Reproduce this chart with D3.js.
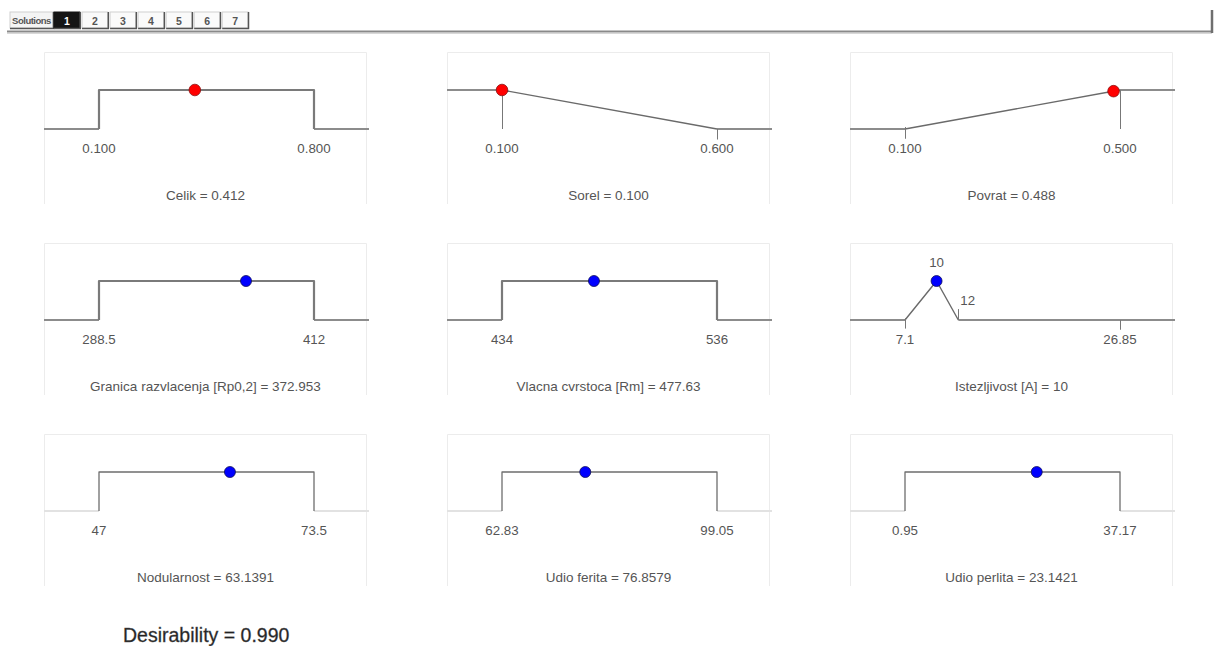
<!DOCTYPE html>
<html>
<head>
<meta charset="utf-8">
<script src="https://cdn.jsdelivr.net/npm/d3@7"></script>
<style>
  html, body { margin: 0; padding: 0; background: #ffffff; }
  svg { display: block; font-family: "Liberation Sans", Arial, sans-serif; }
</style>
</head>
<body>
<svg id="chart" width="1218" height="646"></svg>
<script>
// ---------------- data ----------------
const solutionLabels = ["1", "2", "3", "4", "5", "6", "7"];
const selectedSolution = "1";
const names = ["Celik", "Sorel", "Povrat",
  "Granica razvlacenja [Rp0,2]", "Vlacna cvrstoca [Rm]", "Istezljivost [A]",
  "Nodularnost", "Udio ferita", "Udio perlita"];
const lows = [0.1, 0.1, 0.1, 288.5, 434, 7.1, 47, 62.83, 0.95];
const highs = [0.8, 0.6, 0.5, 412, 536, 26.85, 73.5, 99.05, 37.17];
const lowLabels = ["0.100", "0.100", "0.100", "288.5", "434", "7.1", "47", "62.83", "0.95"];
const highLabels = ["0.800", "0.600", "0.500", "412", "536", "26.85", "73.5", "99.05", "37.17"];
const currentValues = [0.412, 0.100, 0.488, 372.953, 477.63, 10, 63.1391, 76.8579, 23.1421];
const valueLabels = ["0.412", "0.100", "0.488", "372.953", "477.63", "10", "63.1391", "76.8579", "23.1421"];
const shapes = ["range", "decreasing", "increasing", "range", "range", "target", "range", "range", "range"];
const kinds = ["factor", "factor", "factor", "response", "response", "response", "response", "response", "response"];
const targetValues = [null, null, null, null, null, 10, null, null, null];
const targetUppers = [null, null, null, null, null, 12, null, null, null];
const targetLabels = [null, null, null, null, null, "10", null, null, null];
const upperLabels = [null, null, null, null, null, "12", null, null, null];
const desirabilityLabel = "Desirability = 0.990";

// ---------------- layout ----------------
const svg = d3.select("#chart");
const panelW = 323, panelH = 152;
const colX = d3.scaleLinear().domain([0, 2]).range([44, 850]);
const rowY = d3.scaleLinear().domain([0, 2]).range([52, 434]);
const levelY = d3.scaleLinear().domain([0, 1]).range([77, 38]);

// ---------------- toolbar ----------------
const tb = svg.append("g");
tb.append("rect").attr("x", 10).attr("y", 12).attr("width", 43).attr("height", 16)
  .attr("fill", "#f4f4f4").attr("stroke", "#cfcfcf");
tb.append("path").attr("d", "M10,28.5H53.5V12").attr("fill", "none").attr("stroke", "#555").attr("stroke-width", 1.5);
tb.append("text").attr("x", 31.5).attr("y", 24).attr("text-anchor", "middle")
  .attr("font-size", 9.5).attr("font-weight", "bold").attr("fill", "#555").attr("letter-spacing", -0.5).text("Solutions");

const bx = d3.scaleBand().domain(solutionLabels).range([54, 248]).paddingInner(0.08);
const btn = tb.selectAll("g.btn").data(solutionLabels).join("g").attr("class", "btn");
btn.append("rect").attr("x", d => bx(d)).attr("y", 12).attr("width", bx.bandwidth()).attr("height", 16)
  .attr("fill", d => d === selectedSolution ? "#151515" : "#fafafa")
  .attr("stroke", d => d === selectedSolution ? "#151515" : "#d0d0d0");
btn.append("path").attr("d", d => `M${bx(d)},28.5H${bx(d) + bx.bandwidth() + 0.5}V12`)
  .attr("fill", "none").attr("stroke", "#555").attr("stroke-width", 1.5);
btn.append("text").attr("x", d => bx(d) + bx.bandwidth() / 2).attr("y", 24.5).attr("text-anchor", "middle")
  .attr("font-size", 10.5).attr("font-weight", "bold")
  .attr("fill", d => d === selectedSolution ? "#ffffff" : "#555").text(d => d);

tb.append("line").attr("x1", 7).attr("x2", 1212).attr("y1", 31.5).attr("y2", 31.5).attr("stroke", "#8a8a8a").attr("stroke-width", 2);
tb.append("line").attr("x1", 7).attr("x2", 1212).attr("y1", 33.5).attr("y2", 33.5).attr("stroke", "#d8d8d8").attr("stroke-width", 1);
tb.append("line").attr("x1", 1212).attr("x2", 1212).attr("y1", 10).attr("y2", 33).attr("stroke", "#6f6f6f").attr("stroke-width", 2.5);

// ---------------- panels ----------------
names.forEach((name, i) => {
  const col = i % 3, row = Math.floor(i / 3);
  const g = svg.append("g").attr("transform", `translate(${colX(col)},${rowY(row)})`);
  const x = d3.scaleLinear().domain([lows[i], highs[i]]).range([55, 270]);
  const xL = x.invert(0), xR = x.invert(panelW + 2);
  const lightRow = row === 2;

  // frame
  g.append("path").attr("d", `M0.5,${panelH}V0.5H${panelW - 0.5}V${panelH}`)
    .attr("fill", "none").attr("stroke", "#ececec").attr("stroke-width", 1);

  // profile points
  let outerLeft, inner, outerRight, ticks = [];
  if (shapes[i] === "range") {
    outerLeft = [[xL, 0], [lows[i], 0]];
    inner = [[lows[i], 0], [lows[i], 1], [highs[i], 1], [highs[i], 0]];
    outerRight = [[highs[i], 0], [xR, 0]];
  } else if (shapes[i] === "decreasing") {
    outerLeft = [[xL, 1], [lows[i], 1]];
    inner = [[lows[i], 1], [highs[i], 0]];
    outerRight = [[highs[i], 0], [xR, 0]];
    ticks = [{ v: lows[i], a: 1, b: 0 }, { v: highs[i], a: 0, b: -0.27 }];
  } else if (shapes[i] === "increasing") {
    outerLeft = [[xL, 0], [lows[i], 0]];
    inner = [[lows[i], 0], [highs[i], 1]];
    outerRight = [[highs[i], 1], [xR, 1]];
    ticks = [{ v: lows[i], a: 0.05, b: -0.25 }, { v: highs[i], a: 1, b: 0 }];
  } else if (shapes[i] === "target") {
    outerLeft = [[xL, 0], [lows[i], 0]];
    inner = [[lows[i], 0], [targetValues[i], 1], [targetUppers[i], 0]];
    outerRight = [[targetUppers[i], 0], [xR, 0]];
    ticks = [{ v: lows[i], a: 0.05, b: -0.22 }, { v: targetUppers[i], a: 0.28, b: 0 }, { v: highs[i], a: 0, b: -0.25 }];
  }
  const line = d3.line().x(d => x(d[0])).y(d => levelY(d[1]));
  const outerColor = lightRow ? "#e2e2e2" : "#8c8c8c";
  g.append("path").attr("d", line(outerLeft)).attr("fill", "none").attr("stroke", outerColor).attr("stroke-width", 2.2);
  g.append("path").attr("d", line(outerRight)).attr("fill", "none").attr("stroke", outerColor).attr("stroke-width", 2.2);
  let innerColor = "#7a7a7a", innerW = 2.2;
  if (lightRow) { innerColor = "#6e6e6e"; innerW = 1.3; }
  if (shapes[i] !== "range") { innerColor = "#6a6a6a"; innerW = 1.4; }
  g.append("path").attr("d", line(inner)).attr("fill", "none").attr("stroke", innerColor)
    .attr("stroke-width", innerW).attr("stroke-linejoin", "round");

  g.selectAll("line.tick").data(ticks).join("line").attr("class", "tick")
    .attr("x1", d => Math.round(x(d.v)) + 0.5).attr("x2", d => Math.round(x(d.v)) + 0.5)
    .attr("y1", d => levelY(d.a)).attr("y2", d => levelY(d.b))
    .attr("stroke", "#777").attr("stroke-width", 1);

  // axis labels
  const labelData = [{ v: lows[i], t: lowLabels[i] }, { v: highs[i], t: highLabels[i] }];
  g.selectAll("text.lab").data(labelData).join("text").attr("class", "lab")
    .attr("x", d => x(d.v)).attr("y", 101).attr("text-anchor", "middle")
    .attr("font-size", 13.3).attr("fill", "#555").text(d => d.t);

  if (shapes[i] === "target") {
    g.append("text").attr("x", x(targetValues[i])).attr("y", levelY(1) - 14).attr("text-anchor", "middle")
      .attr("font-size", 13.3).attr("fill", "#555").text(targetLabels[i]);
    g.append("text").attr("x", x(targetUppers[i]) + 2).attr("y", levelY(0) - 15).attr("text-anchor", "start")
      .attr("font-size", 13.3).attr("fill", "#555").text(upperLabels[i]);
  }

  // current value dot
  let lvl = 1;
  if (shapes[i] === "decreasing") lvl = 1 - (currentValues[i] - lows[i]) / (highs[i] - lows[i]);
  if (shapes[i] === "increasing") lvl = (currentValues[i] - lows[i]) / (highs[i] - lows[i]);
  lvl = Math.max(0, Math.min(1, lvl));
  const isFactor = kinds[i] === "factor";
  g.append("circle").attr("cx", x(currentValues[i])).attr("cy", levelY(lvl))
    .attr("r", isFactor ? 5.8 : 5.5)
    .attr("fill", isFactor ? "#ff0000" : "#0000ff")
    .attr("stroke", isFactor ? "#8a1010" : "#10105a").attr("stroke-width", 0.8);

  // title
  g.append("text").attr("x", panelW / 2).attr("y", 148).attr("text-anchor", "middle")
    .attr("font-size", 13.5).attr("fill", "#555").text(`${name} = ${valueLabels[i]}`);
});

// ---------------- overall desirability ----------------
svg.append("text").attr("x", 123).attr("y", 642).attr("font-size", 19.5)
  .attr("fill", "#222").attr("stroke", "#555").attr("stroke-width", 0.35).text(desirabilityLabel);
</script>
</body>
</html>
